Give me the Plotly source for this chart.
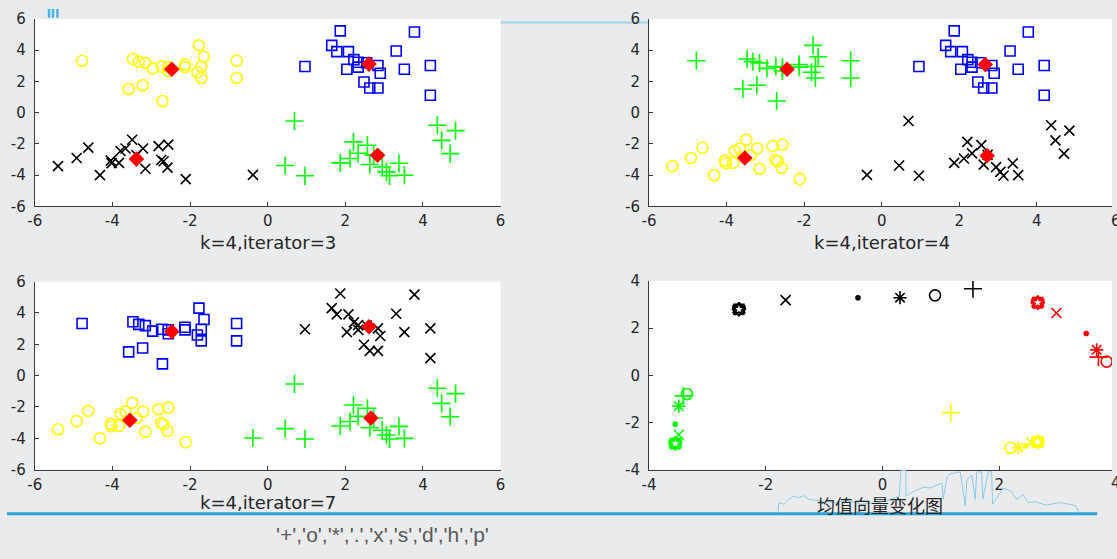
import plotly.graph_objects as go

W, H = 1117, 559

# ---------------- data ----------------
# point groups (shared data set)
TL_X = [-4.78, -3.47, -3.32, -3.15, -3.58, -3.22, -2.96, -2.71, -2.73, -2.56, -2.56, -2.13, -2.13, -1.77, -1.64, -1.71, -1.81, -1.71, -0.80, -0.80]
TL_Y = [3.33, 3.44, 3.27, 3.19, 1.52, 1.76, 2.84, 0.75, 2.96, 2.92, 2.67, 3.09, 2.92, 4.31, 3.58, 2.96, 2.59, 2.22, 3.33, 2.22]
TR_X = [1.87, 3.78, 1.65, 1.78, 2.08, 3.31, 0.96, 2.04, 2.22, 2.33, 2.33, 2.84, 2.90, 3.52, 4.19, 4.19, 2.48, 2.63, 2.84, 2.55]
TR_Y = [5.24, 5.17, 4.31, 3.91, 3.91, 3.95, 2.96, 2.78, 3.40, 3.23, 2.92, 3.02, 2.53, 2.78, 3.02, 1.12, 1.97, 1.58, 1.58, 3.20]
BL_X = [-5.40, -4.92, -4.62, -4.32, -4.04, -4.02, -3.83, -3.79, -3.66, -3.49, -3.21, -3.15, -2.81, -2.56, -2.74, -2.68, -2.58, -2.11, -3.38]
BL_Y = [-3.42, -2.90, -2.24, -4.00, -3.07, -3.23, -3.21, -2.45, -2.29, -1.73, -2.29, -3.59, -2.14, -2.04, -3.03, -3.11, -3.52, -4.25, -2.72]
BR_X = [0.69, 0.45, 0.96, 1.87, 2.12, 2.21, 2.33, 2.57, 2.63, 2.73, 2.95, 3.06, 3.14, 3.38, 3.52, 4.37, 4.84, 4.48, 4.70]
BR_Y = [-0.53, -3.38, -4.04, -3.21, -2.93, -1.87, -2.60, -2.08, -3.32, -2.70, -3.48, -3.79, -4.04, -3.24, -4.00, -0.80, -1.15, -1.77, -2.62]
BRIDGE_X = [-0.38]
BRIDGE_Y = [-3.98]

# centroids per iteration
C3_X = [-2.47, 2.61, -3.38, 2.83]
C3_Y = [2.78, 3.11, -2.97, -2.72]
C4_X = [-2.44, 2.67, -3.53, 2.72]
C4_Y = [2.78, 3.09, -2.90, -2.76]
C7_X = [-2.47, 2.61, -3.55, 2.66]
C7_Y = [2.81, 3.12, -2.85, -2.70]

# mean-vector trajectories (marker order '+','o','*','.','x','s','d','h','p')
MARK_ORDER = ['+', 'o', '*', '.', 'x', 's', 'd', 'h', 'p']
TRJ_BLACK_X = [1.55, 0.90, 0.30, -0.42, -1.66, -2.46, -2.46, -2.46, -2.46]
TRJ_BLACK_Y = [3.67, 3.39, 3.29, 3.29, 3.19, 2.80, 2.80, 2.80, 2.80]
TRJ_RED_X = [3.70, 3.84, 3.67, 3.49, 2.98, 2.66, 2.66, 2.66, 2.66]
TRJ_RED_Y = [0.77, 0.58, 1.08, 1.77, 2.64, 3.08, 3.08, 3.08, 3.08]
TRJ_GREEN_X = [-3.41, -3.35, -3.49, -3.55, -3.49, -3.55, -3.55, -3.55, -3.55]
TRJ_GREEN_Y = [-0.87, -0.79, -1.31, -2.07, -2.52, -2.89, -2.89, -2.89, -2.89]
TRJ_YELLOW_X = [1.17, 2.19, 2.33, 2.46, 2.55, 2.66, 2.66, 2.66, 2.66]
TRJ_YELLOW_Y = [-1.58, -3.07, -3.07, -2.99, -2.85, -2.82, -2.82, -2.82, -2.82]

TICKS6 = [-6, -4, -2, 0, 2, 4, 6]
TICKS6_TEXT = ['-6', '-4', '-2', '0', '2', '4', '6']
TICKS4 = [-4, -2, 0, 2, 4]
TICKS4_TEXT = ['-4', '-2', '0', '2', '4']

TITLES = ['k=4,iterator=3', 'k=4,iterator=4', 'k=4,iterator=7', '均值向量变化图']
FOOTER = "'+','o','*','.','x','s','d','h','p'"

# ---------------- styles ----------------
YEL, GRN, BLU, BLK, RED = '#ffff00', '#00ff00', '#0000ff', '#000000', '#ff0000'
SYM = {'+': 'cross-thin-open', 'o': 'circle-open', '*': 'asterisk-open', '.': 'circle',
       'x': 'x-thin-open', 's': 'square-open', 'd': 'diamond-open', 'h': 'hexagram-open', 'p': 'star-open'}
SIZE = {'+': 13, 'o': 11, '*': 11, '.': 4, 'x': 10, 's': 10, 'd': 10, 'h': 10, 'p': 10}

fig = go.Figure()


def pts(xs, ys, m, color, ax, size=None):
    fig.add_trace(go.Scatter(
        x=xs, y=ys, mode='markers', xaxis='x' + ax, yaxis='y' + ax, showlegend=False,
        hoverinfo='skip',
        marker=dict(symbol=SYM[m], size=size or SIZE[m], color=color,
                    line=dict(color=color, width=1.6))))


def cents(xs, ys, ax):
    fig.add_trace(go.Scatter(
        x=xs, y=ys, mode='markers', xaxis='x' + ax, yaxis='y' + ax, showlegend=False,
        hoverinfo='skip',
        marker=dict(symbol='diamond', size=12, color=RED, line=dict(width=0))))


# iteration 3 (axes 1)
pts(TL_X, TL_Y, 'o', YEL, '')
pts(TR_X, TR_Y, 's', BLU, '')
pts(BL_X + BRIDGE_X, BL_Y + BRIDGE_Y, 'x', BLK, '')
pts(BR_X, BR_Y, '+', GRN, '')
cents(C3_X, C3_Y, '')

# iteration 4 (axes 2)
pts(TL_X, TL_Y, '+', GRN, '2')
pts(TR_X, TR_Y, 's', BLU, '2')
pts(BL_X, BL_Y, 'o', YEL, '2')
pts(BR_X + BRIDGE_X, BR_Y + BRIDGE_Y, 'x', BLK, '2')
cents(C4_X, C4_Y, '2')

# iteration 7 (axes 3)
pts(TL_X, TL_Y, 's', BLU, '3')
pts(TR_X, TR_Y, 'x', BLK, '3')
pts(BL_X, BL_Y, 'o', YEL, '3')
pts(BR_X + BRIDGE_X, BR_Y + BRIDGE_Y, '+', GRN, '3')
cents(C7_X, C7_Y, '3')

# mean-vector change (axes 4)
for xs, ys, col in [(TRJ_BLACK_X, TRJ_BLACK_Y, BLK), (TRJ_RED_X, TRJ_RED_Y, RED),
                    (TRJ_GREEN_X, TRJ_GREEN_Y, GRN), (TRJ_YELLOW_X, TRJ_YELLOW_Y, YEL)]:
    for m, xv, yv in zip(MARK_ORDER, xs, ys):
        pts([xv], [yv], m, col, '4')


# ---------------- layout ----------------
def xdom(a, b):
    return [a / W, min(b / W, 1.0)]


def ydom(top, bottom):
    return [1 - bottom / H, 1 - top / H]


FONT_T = dict(family='DejaVu Sans', size=15, color='#262626')


def axstyle(rng, vals, text, dom, anchor, standoff):
    return dict(range=rng, domain=dom, anchor=anchor, tickvals=vals, ticktext=text,
                showline=True, linecolor='#3a3a3a', linewidth=1, mirror=False,
                ticks='inside', ticklen=4, tickcolor='#3a3a3a', tickwidth=1,
                showgrid=False, zeroline=False, tickfont=FONT_T, ticklabelstandoff=standoff,
                fixedrange=True)


upx = 39.2  # px per unit in the +-6 panels
right_range6 = -6 + (W - 649) / upx
right_range4 = -4 + (W - 649) / 59.0

layout = dict(
    width=W, height=H, margin=dict(l=0, r=0, t=0, b=0),
    paper_bgcolor='#eaebed', plot_bgcolor='#ffffff',
    xaxis=axstyle([-6, 6], TICKS6, TICKS6_TEXT, xdom(28, 499), 'y', 1),
    yaxis=axstyle([-6, 6], TICKS6, TICKS6_TEXT, ydom(10.3, 204), 'x', 5),
    xaxis2=axstyle([-6, right_range6], TICKS6, TICKS6_TEXT, xdom(649, W), 'y2', 1),
    yaxis2=axstyle([-6, 6], TICKS6, TICKS6_TEXT, ydom(10.3, 204), 'x2', 5),
    xaxis3=axstyle([-6, 6], TICKS6, TICKS6_TEXT, xdom(28, 499), 'y3', 1),
    yaxis3=axstyle([-6, 6], TICKS6, TICKS6_TEXT, ydom(281.7, 476), 'x3', 5),
    xaxis4=axstyle([-4, right_range4], TICKS4, TICKS4_TEXT, xdom(649, W), 'y4', 1),
    yaxis4=axstyle([-4, 4], TICKS4, TICKS4_TEXT, ydom(281, 476), 'x4', 5),
)
fig.update_layout(**layout)

# ---------------- decorations (slide background) ----------------
shapes = []


def px_line(x0, y0, x1, y1, color, width, layer='below'):
    shapes.append(dict(type='line', xref='paper', yref='paper', layer=layer,
                       x0=x0 / W, x1=x1 / W, y0=1 - y0 / H, y1=1 - y1 / H,
                       line=dict(color=color, width=width)))


# top-left small vertical bars
for xv in [42.5, 46.5, 51]:
    px_line(xv, 0, xv, 9, '#45b2e3', 2.5)
# thin light-blue line between top panels
px_line(499, 14, 649, 14, '#9bd5ee', 2)

# skyline outline near bottom-right caption
sky = [(779.3, 520.7), (780.3, 510), (785.3, 511.7), (790.3, 506.7), (795.3, 503.3), (800.3, 505),
       (805.3, 502.7), (810.3, 506.7), (823.7, 508.3), (837, 510), (850.3, 508.3), (863.7, 511.7),
       (880.3, 510), (893.7, 506.7), (902, 503.3), (903.7, 476.7), (908.7, 476.7), (908.7, 503.3),
       (917, 498.3), (927, 494), (933.7, 495), (940.3, 491.7), (945.3, 490), (946.3, 506.7),
       (950.3, 483.3), (953.7, 480), (963.7, 478.3), (965.3, 490), (968.7, 513.3), (970.3, 486.7),
       (975.3, 481.7), (978.7, 506.7), (980.3, 478.3), (985.3, 478.3), (986.3, 506.7), (992, 478.3),
       (995.3, 478.3), (996.3, 511.7), (1007, 495), (1015.3, 498.3), (1020.3, 506.7), (1027, 501.7),
       (1032, 510), (1040.3, 509.3), (1050.3, 512.7), (1063.7, 510), (1073.7, 511.7), (1080.3, 513.3),
       (1083.7, 520.7)]
path = 'M ' + ' L '.join(f'{x / W:.5f},{1 - y / H:.5f}' for x, y in sky)
shapes.append(dict(type='path', xref='paper', yref='paper', path=path, layer='above',
                   line=dict(color='#8ccbe8', width=1)))

# bottom blue rule
px_line(0, 521.5, 1102, 521.5, '#2ea3d5', 3)
fig.update_layout(shapes=shapes)

# ---------------- text ----------------
ann = []


def px_text(x, y, s, size, color='#262626', family='DejaVu Sans'):
    ann.append(dict(xref='paper', yref='paper', x=x / W, y=1 - y / H, text=s, showarrow=False,
                    xanchor='center', yanchor='middle', font=dict(family=family, size=size, color=color)))


px_text(263.5, 241, TITLES[0], 18)
px_text(884, 241, TITLES[1], 18)
px_text(263.5, 510, TITLES[2], 18)
px_text(882, 512.5, TITLES[3], 18, family='Noto Sans CJK SC')
px_text(380, 543, FOOTER, 21, color='#595959', family='Liberation Sans')
# tick labels clipped at the right edge of the slide (as in the reference)
px_text(1121.5, 219, TICKS6_TEXT[-1], 15)
px_text(1121.5, 490, TICKS4_TEXT[-1], 15)
fig.update_layout(annotations=ann)

fig.write_html('out.html')
